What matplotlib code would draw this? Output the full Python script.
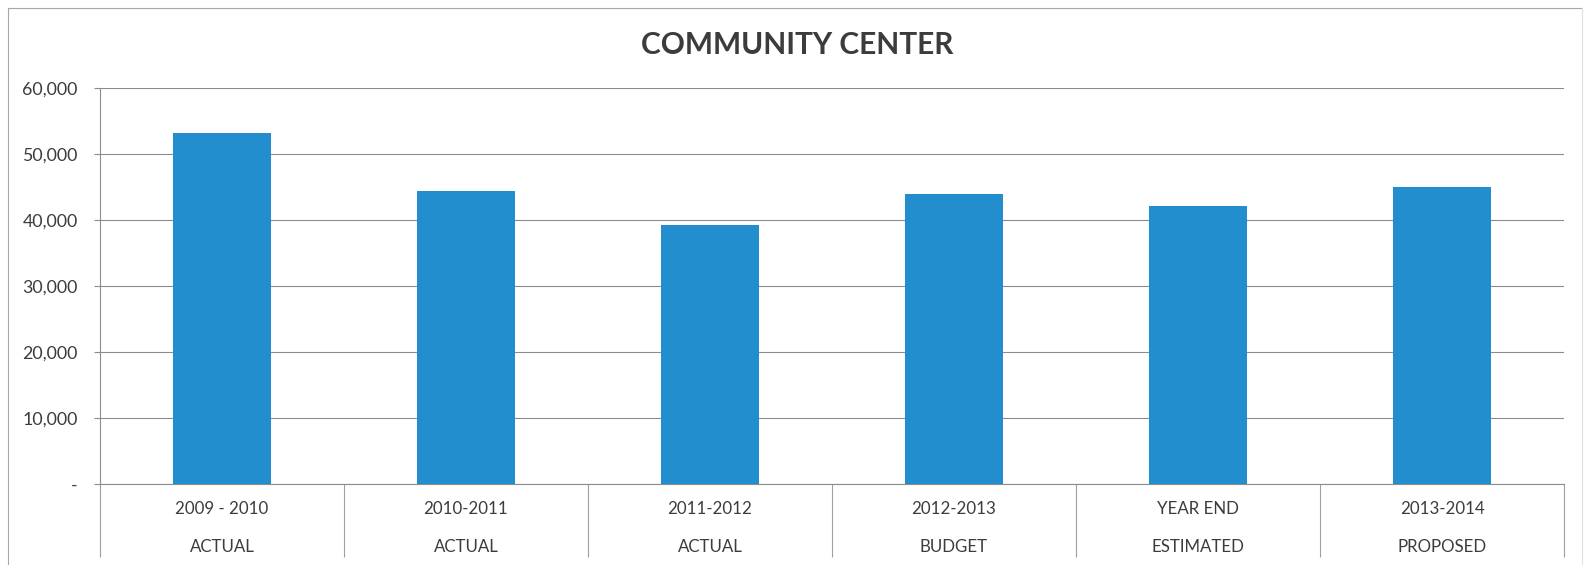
import numpy as np
import matplotlib.pyplot as plt
from matplotlib.ticker import FuncFormatter
from matplotlib.lines import Line2D

plt.rcParams['font.family'] = ['Lato', 'DejaVu Sans']

# 数据
years = ['2009 - 2010', '2010-2011', '2011-2012', '2012-2013', 'YEAR END', '2013-2014']
kinds = ['ACTUAL', 'ACTUAL', 'ACTUAL', 'BUDGET', 'ESTIMATED', 'PROPOSED']
values = [53200, 44450, 39250, 43950, 42100, 45050]
yticks = [0, 10000, 20000, 30000, 40000, 50000, 60000]

text_color = '#3c3c3c'
grid_color = '#8c8c8c'
bar_color = '#228ecd'

W, H = 1585, 565
fig = plt.figure(figsize=(W / 100, H / 100), dpi=100)
ax = fig.add_axes([100 / W, 1 - 484 / H, 1464 / W, 396 / H])

x = np.arange(len(values))
ax.bar(x, values, width=0.4, color=bar_color, zorder=3)

ax.set_xlim(-0.5, len(values) - 0.5)
ax.set_ylim(0, 60000)
ax.set_yticks(yticks)
ax.yaxis.set_major_formatter(FuncFormatter(lambda v, p: '-' if v == 0 else f'{v:,.0f}'))
ax.grid(axis='y', color=grid_color, linewidth=0.8, zorder=0)
ax.set_xticks([])
ax.tick_params(axis='y', length=4, width=0.8, color=grid_color, pad=12,
               labelsize=12.8, labelcolor=text_color)

for s in ['top', 'right']:
    ax.spines[s].set_visible(False)
ax.spines['left'].set_color(grid_color)
ax.spines['bottom'].set_color(grid_color)
ax.spines['left'].set_linewidth(0.8)
ax.spines['bottom'].set_linewidth(0.8)

# 两级分类轴：分隔线和文字
trans = ax.get_xaxis_transform()
bounds = np.arange(len(values) + 1) - 0.5
ax.vlines(bounds, -0.184, 0, transform=trans, color='#a0a0a0',
          linewidth=0.8, clip_on=False)
for i in x:
    ax.text(i, -0.063, years[i], transform=trans, ha='center', va='center',
            fontsize=12.2, color=text_color)
    ax.text(i, -0.159, kinds[i], transform=trans, ha='center', va='center',
            fontsize=12.2, color=text_color)

fig.text(0.503, 1 - 45 / H, 'COMMUNITY CENTER', ha='center', va='center',
         fontsize=21.5, fontweight='bold', color=text_color)

# 外框
bx0, bx1, by0 = 8 / W, 1582 / W, 1 - 8 / H
fig.add_artist(Line2D([bx0, bx1], [by0, by0], color='#a8a8a8', linewidth=0.8))
fig.add_artist(Line2D([bx0, bx0], [0, by0], color='#a8a8a8', linewidth=0.8))
fig.add_artist(Line2D([bx1, bx1], [0, by0], color='#e0e0e0', linewidth=0.8))

plt.savefig('out.png', dpi=100)
